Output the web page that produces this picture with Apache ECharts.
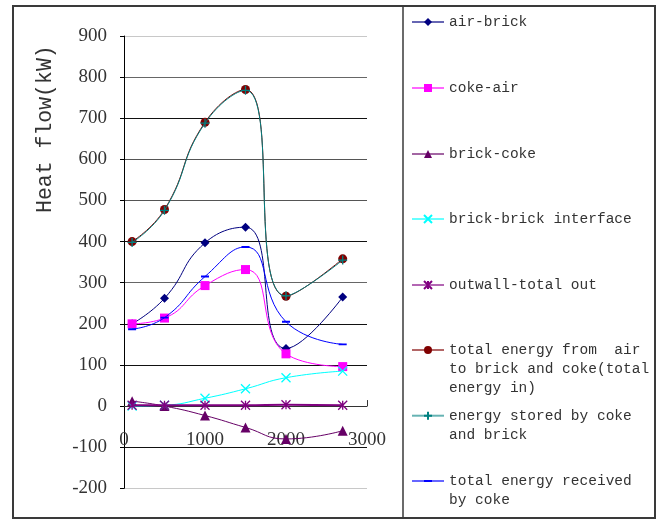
<!DOCTYPE html>
<html>
<head>
<meta charset="utf-8">
<script src="https://cdn.jsdelivr.net/npm/echarts@6/dist/echarts.min.js"></script>
<style>html,body{margin:0;padding:0;background:#fff}#c{width:658px;height:520px}</style>
</head>
<body>
<div id="c"></div>
<script>
// ---- data ----
var xValues = [100, 500, 1000, 1500, 2000, 2700];
var seriesNames = [
  'air-brick',
  'coke-air',
  'brick-coke',
  'brick-brick interface',
  'outwall-total out',
  'total energy from  air\nto brick and coke(total\nenergy in)',
  'energy stored by coke\nand brick',
  'total energy received\nby coke'
];
var airBrick      = [200, 262, 397, 435, 140, 265];
var cokeAir       = [200, 214, 293, 332, 127, 96];
var brickCoke     = [12, 0, -23, -52, -80, -60];
var brickBrick    = [0, 2, 19, 42, 69, 85];
var outwallOut    = [2, 2, 2, 2, 3, 2];
var totalIn       = [400, 478, 690, 770, 267, 358];
var storedCB      = [398, 476, 688, 768, 268, 355];
var receivedCoke  = [187, 215, 315, 387, 205, 150];
var yTickMin = -200, yTickMax = 900, yTickStep = 100;
var xTickMin = 0, xTickMax = 3000, xTickStep = 1000;
var yAxisTitle = 'Heat flow(kW)';

function pairs(ys){ return xValues.map(function(x,i){ return [x, ys[i]]; }); }

var colors = ['#000080','#ff00ff','#660066','#00ffff','#800080','#800000','#008080','#0000ff'];
var symbols = [
  'diamond','rect','triangle',
  'path://M0,0L10,10M10,0L0,10',
  'path://M0,0L10,10M10,0L0,10M5,0L5,10',
  'circle',
  'path://M5,0L5,10M0,5L10,5',
  'path://M0,0L0.01,0M0,3.8L10,3.8L10,6.2L0,6.2ZM0,10L0.01,10'
];
var symSizes = [9, 9, 10, 9, 9, 9, 9, 8];
var lineWidths = [1, 1, 1, 1, 2, 1, 1, 1];
var dataSets = [airBrick, cokeAir, brickCoke, brickBrick, outwallOut, totalIn, storedCB, receivedCoke];
var strokeSym = [false,false,false,true,true,false,true,false];

var series = dataSets.map(function(d, i){
  return {
    name: seriesNames[i],
    type: 'line',
    data: pairs(d),
    smooth: 0.5,
    symbol: symbols[i],
    symbolSize: symSizes[i],
    showAllSymbol: true,
    lineStyle: {color: colors[i], width: lineWidths[i]},
    itemStyle: {color: colors[i], borderColor: colors[i], borderWidth: strokeSym[i] ? 1.3 : 0},
    emphasis: {disabled: true},
    animation: false,
    z: 2 + i
  };
});

var iconCenters = [22, 88, 154, 219, 285, 350, 415.7, 481];
var lh = 19.3;
var legends = seriesNames.map(function(n, i){
  var lines = n.split('\n').length;
  var blockH = (2 * lines - 1) * lh;
  var lead = new Array(lines).join('\n');
  return {
    data: [n],
    orient: 'vertical',
    left: 411,
    top: iconCenters[i] - blockH / 2,
    itemWidth: 32,
    itemHeight: 10,
    itemGap: 0,
    padding: 0,
    selectedMode: false,
    formatter: function(name){ return lead + name; },
    lineStyle: {width: 2, opacity: 0.6},
    textStyle: {
      fontFamily: 'Liberation Mono',
      fontSize: 14.5,
      color: '#333',
      lineHeight: lh
    }
  };
});

var splitColors = ['#c8c8c8','#111','#111','#111','#111','#666','#111','#555','#555','#111','#666','#c8c8c8'];

var chart = echarts.init(document.getElementById('c'), null, {renderer: 'canvas'});
chart.setOption({
  backgroundColor: '#fff',
  animation: false,
  grid: {left: 124, top: 36, width: 243, height: 452.3, containLabel: false, outerBoundsMode: 'none'},
  legend: legends,
  xAxis: {
    type: 'value',
    min: xTickMin, max: xTickMax, interval: xTickStep,
    axisLine: {onZero: true, lineStyle: {color: '#333', width: 1}},
    axisTick: {show: true, inside: true, length: 6, customValues: [xTickMax], lineStyle: {color: '#333'}},
    axisLabel: {margin: -58, fontFamily: 'Liberation Serif', fontSize: 19, color: '#333',
      formatter: function(v){ return String(v); }},
    splitLine: {show: false}
  },
  yAxis: {
    type: 'value',
    min: yTickMin, max: yTickMax, interval: yTickStep,
    name: yAxisTitle,
    nameLocation: 'middle',
    nameGap: 68,
    nameTextStyle: {fontFamily: 'Liberation Mono', fontSize: 21.5, color: '#333', padding: [0, 0, 0, 266]},
    axisLine: {show: true, lineStyle: {color: '#000', width: 1}},
    axisTick: {show: true, inside: false, length: 4, lineStyle: {color: '#000'}},
    axisLabel: {margin: 17, fontFamily: 'Liberation Serif', fontSize: 19, color: '#333'},
    splitLine: {show: true, lineStyle: {color: splitColors, width: 1}}
  },
  graphic: [
    {type: 'rect', shape: {x: 13, y: 6, width: 642, height: 512}, style: {fill: 'none', stroke: '#3a3a3a', lineWidth: 2}, silent: true, z: 100},
    {type: 'line', shape: {x1: 403, y1: 6, x2: 403, y2: 518}, style: {stroke: '#3a3a3a', lineWidth: 1.5}, silent: true, z: 100}
  ],
  series: series
});
</script>
</body>
</html>
